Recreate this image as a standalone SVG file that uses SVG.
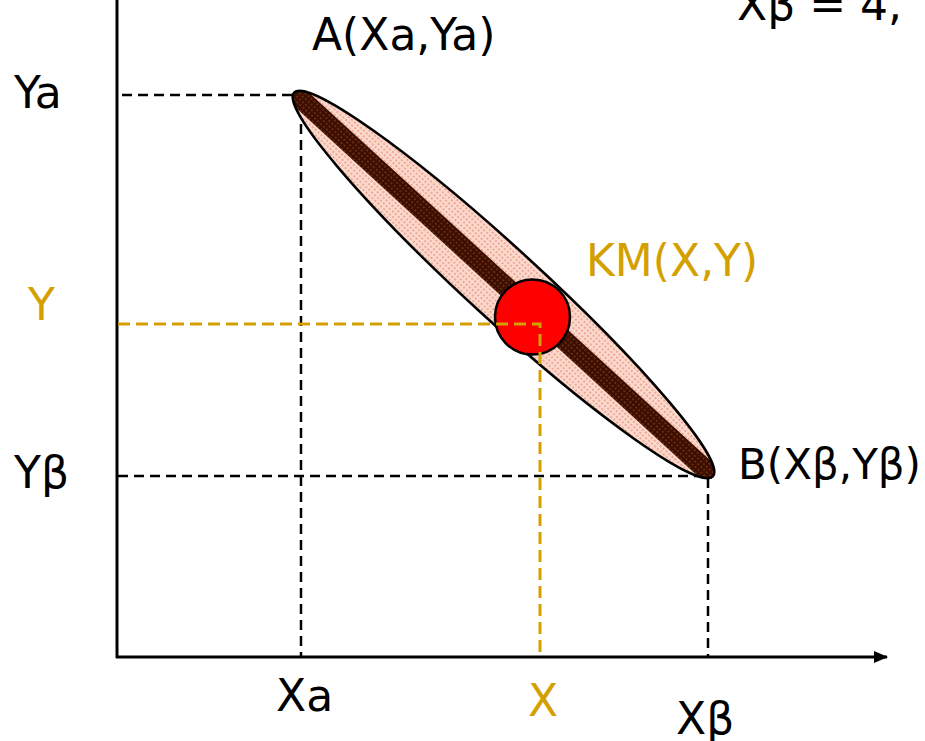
<svg xmlns="http://www.w3.org/2000/svg" width="925" height="741" viewBox="0 0 925 741">
<style>
text{font-family:"DejaVu Sans","Verdana",sans-serif;font-size:44px;fill:#000}
.g{fill:#d4a000}
.axis{stroke:#000;stroke-width:3;fill:none}
.dash{stroke:#000;stroke-width:2.5;stroke-dasharray:10 6;fill:none}
.gdash{stroke:#d4a000;stroke-width:3;stroke-dasharray:12 6;fill:none}
</style>
<defs>
<pattern id="pink" width="4" height="4" patternUnits="userSpaceOnUse">
<rect width="4" height="4" fill="#fbd9cc"/>
<rect x="0" y="0" width="2" height="2" fill="#eea898"/>
</pattern>
<pattern id="brown" width="4" height="4" patternUnits="userSpaceOnUse">
<rect width="4" height="4" fill="#3a0e00"/>
<rect x="0" y="0" width="2" height="2" fill="#6a2a10"/>
</pattern>
<clipPath id="ell">
<ellipse cx="0" cy="0" rx="284" ry="36"/>
</clipPath>
<marker id="arr" markerWidth="14" markerHeight="14" refX="13" refY="7" orient="auto" markerUnits="userSpaceOnUse">
<path d="M0,1 L14,7 L0,13 Z" fill="#000"/>
</marker>
</defs>
<g id="axes">
<line class="axis" x1="117" y1="0" x2="117" y2="658"/>
<line class="axis" x1="116" y1="657" x2="887" y2="657" marker-end="url(#arr)"/>
</g>
<g id="connectors">
<polyline class="dash" points="122,95 301,95 301,656"/>
<polyline class="dash" points="118,476 708,476 708,656"/>
</g>
<g id="segment" transform="translate(503.5,284.5) rotate(42.5)">
<ellipse cx="0" cy="0" rx="284" ry="36" fill="url(#pink)"/>
<g clip-path="url(#ell)">
<rect x="-290" y="-10" width="580" height="20" fill="url(#brown)"/>
</g>
<ellipse cx="0" cy="0" rx="284" ry="36" fill="none" stroke="#000" stroke-width="2.5"/>
</g>
<g id="km">
<circle cx="532.5" cy="317" r="37.5" fill="#ff0000" stroke="#000" stroke-width="2.5"/>
</g>
<g id="gold-guides">
<polyline class="gdash" points="118,324 540,324 540,656"/>
</g>
<g id="labels">
<text x="737" y="20">Xβ = 4,</text>
<text x="312" y="50">A(Xa,Ya)</text>
<text x="14" y="108">Ya</text>
<text class="g" x="28" y="320">Y</text>
<text x="14" y="488">Yβ</text>
<text class="g" x="586" y="276">KM(X,Y)</text>
<text x="738" y="479" style="font-size:42px">B(Xβ,Yβ)</text>
<text x="276" y="711">Xa</text>
<text class="g" x="528" y="716">X</text>
<text x="676" y="734">Xβ</text>
</g>
</svg>
